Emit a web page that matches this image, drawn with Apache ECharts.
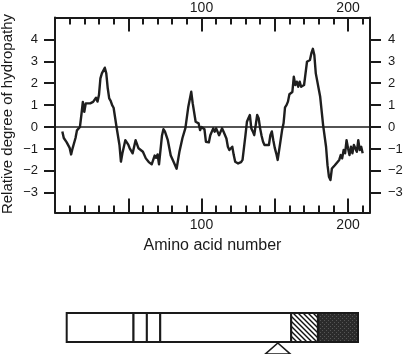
<!DOCTYPE html>
<html>
<head>
<meta charset="utf-8">
<script src="https://cdn.jsdelivr.net/npm/echarts@6/dist/echarts.min.js"></script>
<style>html,body{margin:0;padding:0;background:#fff}#c{width:405px;height:354px}</style>
</head>
<body>
<div id="c"></div>
<script>
// Hydropathy profile
const residue = [5,6,8,10,11,12,14,15,17,18,19,20,21,22,24,26,27,28,29,30,31,32,33,34,35,36,37,38,39,40,42,44,45,46,48,49,50,51,52,53,55,57,58,60,62,64,66,67,68,69,70,71,73,74,75,77,79,81,83,85,87,89,91,93,94,96,98,99,100,102,103,105,106,108,109,110,111,112,114,115,116,117,118,119,121,122,123,124,125,127,128,130,131,132,133,134,135,136,138,139,140,141,142,143,146,147,148,149,150,151,152,154,155,156,157,158,159,160,162,163,164,165,166,167,168,170,171,172,174,175,176,177,178,179,181,183,185,186,187,188,189,191,192,194,195,196,197,198,199,200,201,202,203,204,206,207,208,209,210];
const hydropathy = [-0.2,-0.5,-0.7,-0.95,-1.25,-0.97,-0.5,-0.15,0.0,0.55,1.15,0.7,1.08,1.0,1.08,1.15,1.1,1.34,1.16,1.46,2.22,2.45,2.37,2.71,2.45,1.77,1.31,1.2,1.0,0.88,0.0,-0.82,-1.58,-1.2,-0.6,-0.55,-0.8,-0.97,-1.0,-1.2,-0.6,-0.97,-1.0,-1.13,-1.43,-1.6,-1.7,-1.7,-1.3,-1.4,-1.25,-1.7,-0.4,-0.1,-0.2,-0.6,-1.3,-1.6,-1.9,-1.1,-0.5,-0.05,0.93,1.61,1.08,0.24,0.17,-0.14,0.0,-0.1,-0.67,-0.7,-0.37,-0.06,-0.21,-0.06,0.0,-0.37,-0.06,-0.2,-0.29,-0.52,-0.9,-1.05,-0.9,-1.28,-1.58,-1.5,-1.66,-1.6,-1.5,-0.37,0.24,0.4,0.55,-0.06,-0.2,-0.37,0.55,0.4,-0.06,-0.4,-0.67,-0.82,-0.82,-0.37,-0.2,-0.6,-0.95,-1.2,-1.5,-0.6,-0.14,0.17,0.9,1.0,1.16,1.5,1.6,2.3,1.92,2.07,1.84,2.07,1.84,1.92,2.45,2.98,3.06,3.37,3.57,3.29,2.45,2.37,1.38,0.09,-0.9,-1.74,-2.27,-2.42,-1.89,-1.74,-1.66,-1.5,-1.28,-1.43,-1.05,-1.2,-0.6,-0.97,-1.28,-0.9,-1.2,-0.82,-1.13,-0.6,-1.05,-0.9,-1.2];

// Axis ticks / labels
const yTicks = [-3,-2,-1,0,1,2,3,4];
const xMajorTicks = [50,100,150,200];
const xMinorTicks = [10,20,30,40,60,70,80,90,110,120,130,140,160,170,180,190,210];
const xLabels = [100,200];
const yAxisTitle = 'Relative degree of hydropathy';
const xAxisTitle = 'Amino acid number';

// Protein schematic (residue positions)
const proteinLength = 218;
const segStart = [0,50,60,70,168,188];
const segEnd   = [50,60,70,168,188,218];
const segKind  = ['plain','plain','plain','plain','hatch','dark'];
const sitePosition = [158];

const FONT = "'Liberation Sans', Arial, sans-serif";
const INK = '#1a1a1a';

function hatchPattern(){
  const c = document.createElement('canvas');
  c.width = 5; c.height = 5;
  const g = c.getContext('2d');
  g.fillStyle = '#fff'; g.fillRect(0,0,5,5);
  g.strokeStyle = '#111'; g.lineWidth = 1.4;
  g.beginPath();
  g.moveTo(-1,-1); g.lineTo(6,6);
  g.moveTo(-1,4); g.lineTo(1,6);
  g.moveTo(4,-1); g.lineTo(6,1);
  g.stroke();
  return c;
}
function darkPattern(){
  const c = document.createElement('canvas');
  c.width = 4; c.height = 4;
  const g = c.getContext('2d');
  g.fillStyle = '#2b2b2b'; g.fillRect(0,0,4,4);
  g.fillStyle = '#555';
  g.fillRect(0,0,1,1); g.fillRect(2,2,1,1);
  return c;
}
const hatchImg = hatchPattern();
const darkImg = darkPattern();

const chart = echarts.init(document.getElementById('c'), null, {renderer:'canvas'});
const minusFmt = v => (v < 0 ? '\u2212' + Math.abs(v) : String(v));

const baseX = {
  type:'value', min:0, max:215, gridIndex:0,
  splitLine:{show:false}
};
const opt = {
  animation:false,
  backgroundColor:'#fff',
  textStyle:{fontFamily:FONT, color:INK},
  grid:[
    {left:55, top:17.5, width:315, height:195, containLabel:false, outerBoundsMode:'none'},
    {left:66.7, top:313, width:291.3, height:29, containLabel:false, outerBoundsMode:'none'}
  ],
  graphic:[
    {
      type:'text', x:8, y:114, rotation:Math.PI/2,
      style:{text:yAxisTitle, fontSize:15, fontFamily:FONT, fill:INK, align:'center', verticalAlign:'middle'}
    }
  ],
  xAxis:[
    Object.assign({}, baseX, {
      position:'bottom',
      name:xAxisTitle, nameLocation:'middle', nameGap:25,
      nameTextStyle:{fontSize:16, color:INK, fontFamily:FONT},
      axisLine:{show:true, onZero:false, lineStyle:{color:INK, width:2}},
      axisTick:{show:true, inside:true, length:14, customValues:xMajorTicks, lineStyle:{color:INK, width:2}},
      axisLabel:{show:true, customValues:xLabels, margin:6, fontSize:14, color:INK, fontFamily:FONT}
    }),
    Object.assign({}, baseX, {
      position:'bottom',
      axisLine:{show:false, onZero:false},
      axisTick:{show:true, inside:true, length:7, customValues:xMinorTicks, lineStyle:{color:INK, width:2}},
      axisLabel:{show:false}
    }),
    Object.assign({}, baseX, {
      position:'top',
      axisLine:{show:true, onZero:false, lineStyle:{color:INK, width:2}},
      axisTick:{show:true, inside:true, length:14, customValues:xMajorTicks, lineStyle:{color:INK, width:2}},
      axisLabel:{show:true, customValues:xLabels, margin:2, fontSize:14, color:INK, fontFamily:FONT}
    }),
    Object.assign({}, baseX, {
      position:'top',
      axisLine:{show:false, onZero:false},
      axisTick:{show:true, inside:true, length:7, customValues:xMinorTicks, lineStyle:{color:INK, width:2}},
      axisLabel:{show:false}
    }),
    {type:'value', gridIndex:1, min:0, max:proteinLength, show:false}
  ],
  yAxis:[
    {
      type:'value', gridIndex:0, position:'left', min:-3.9, max:5,
      splitLine:{show:false},
      axisLine:{show:true, onZero:false, lineStyle:{color:INK, width:2}},
      axisTick:{show:true, inside:false, length:11, customValues:yTicks, lineStyle:{color:INK, width:2}},
      axisLabel:{show:true, customValues:yTicks, margin:17, fontSize:13, color:INK, fontFamily:FONT, formatter:minusFmt}
    },
    {
      type:'value', gridIndex:0, position:'right', min:-3.9, max:5,
      splitLine:{show:false},
      axisLine:{show:true, onZero:false, lineStyle:{color:INK, width:2}},
      axisTick:{show:true, inside:false, length:11, customValues:yTicks, lineStyle:{color:INK, width:2}},
      axisLabel:{show:true, customValues:yTicks, margin:18, fontSize:13, color:INK, fontFamily:FONT, formatter:minusFmt}
    },
    {type:'value', gridIndex:1, min:0, max:1, show:false}
  ],
  series:[
    {
      type:'line', xAxisIndex:0, yAxisIndex:0,
      data: residue.map((r,i)=>[r, hydropathy[i]]),
      symbol:'none', smooth:false,
      lineStyle:{color:'#1e1e1e', width:2.4, join:'round'},
      markLine:{
        silent:true, symbol:['none','none'], label:{show:false},
        lineStyle:{color:INK, width:1.5, type:'solid'},
        data:[{yAxis:0}]
      },
      z:3
    },
    {
      type:'custom', xAxisIndex:4, yAxisIndex:2,
      data: segStart.map((s,i)=>[s, segEnd[i], segKind[i]]),
      renderItem:function(params, api){
        const p0 = api.coord([api.value(0), 1]);
        const p1 = api.coord([api.value(1), 0]);
        const kind = segKind[params.dataIndex];
        let fill = '#fff';
        if (kind === 'hatch') fill = {image:hatchImg, repeat:'repeat'};
        if (kind === 'dark') fill = {image:darkImg, repeat:'repeat'};
        return {
          type:'rect',
          shape:{x:p0[0], y:p0[1], width:p1[0]-p0[0], height:p1[1]-p0[1]},
          style:{fill:fill, stroke:INK, lineWidth:2}
        };
      },
      z:2
    },
    {
      type:'custom', xAxisIndex:4, yAxisIndex:2,
      data: sitePosition.map(p=>[p, 0]),
      renderItem:function(params, api){
        const p = api.coord([api.value(0), 0]);
        return {
          type:'polygon',
          shape:{points:[[p[0], p[1]+1], [p[0]-12.5, p[1]+12], [p[0]+12.5, p[1]+12]]},
          style:{fill:'#fff', stroke:INK, lineWidth:1.6}
        };
      },
      z:3
    }
  ]
};
chart.setOption(opt);
</script>
</body>
</html>
